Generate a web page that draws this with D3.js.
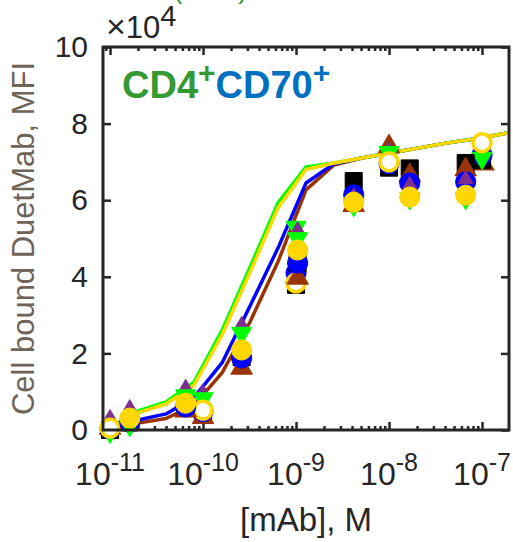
<!DOCTYPE html>
<html>
<head>
<meta charset="utf-8">
<script src="https://cdn.jsdelivr.net/npm/d3@7"></script>
<style>
  html, body { margin: 0; padding: 0; background: #fff; }
  svg { display: block; font-family: "Liberation Sans", Arial, Helvetica, sans-serif; }
</style>
</head>
<body>
<div id="chart"></div>
<script>
/*
 * Cell bound DuetMab vs [mAb] — CD4+CD70+ cells
 * Values in units of 10^4 MFI (axis multiplier shown top-left)
 */

/* ── concentrations (M) ───────────────────────────────────────── */
var concA   = [1.63e-11, 6.5e-11, 2.6e-10, 1.04e-9, 4.17e-9, 1.67e-8, 6.67e-8];
var concB   = [1e-11, 1e-10, 1e-9, 1e-8, 1e-7];
var concOpen = [1e-7];
var fitConc = [1e-11, 2e-11, 4e-11, 8e-11, 1.6e-10, 3.2e-10, 6.4e-10, 1.28e-9,
               2.56e-9, 5.12e-9, 1.02e-8, 2.05e-8, 4.1e-8, 8.2e-8, 1.64e-7, 3.28e-7];

/* ── measured points, series A (4-fold dilutions) ─────────────── */
var blackA  = [0.20, 0.60, 1.90, 4.36, 6.50, 6.83, 6.97];
var brownA  = [0.15, 0.50, 1.62, 3.97, 5.87, 6.65, 6.80];
var blueA   = [0.20, 0.60, 1.88, 4.36, 6.14, 6.45, 6.48];
var purpleA = [0.57, 1.10, 2.74, 5.22, 6.10, 6.40, 6.55];
var greenA  = [0.13, 0.90, 2.53, 5.00, 5.87, 6.05, 6.05];
var goldA   = [0.31, 0.70, 2.09, 4.70, 5.95, 6.08, 6.13];

/* ── measured points, series B (10-fold dilutions) ────────────── */
var blackB  = [0.00, 0.45, 3.79, 6.85, 7.05];
var brownB  = [0.05, 0.33, 4.00, 7.40];
var blueB   = [0.02, 0.48, 4.10, 6.95, 7.18];
var purpleB = [0.31, 0.97, 4.60, 7.30, 7.30];
var greenB  = [-0.05, 0.82, 5.30, 7.25, 7.10];
var whiteB  = [0.05, 0.52, 3.84, 7.00, 7.50];
var brownOpen = [6.97];

/* ── fitted curves ────────────────────────────────────────────── */
var fitGreen = [0.05, 0.50, 0.73, 1.25, 2.60, 4.25, 5.93, 6.87, 6.97, 7.10, 7.23, 7.36, 7.49, 7.60, 7.73, 7.86];
var fitGold  = [0.03, 0.45, 0.68, 1.17, 2.48, 4.12, 5.80, 6.80, 6.97, 7.10, 7.23, 7.36, 7.49, 7.60, 7.73, 7.86];
var fitBlue  = [0.00, 0.26, 0.42, 0.85, 1.75, 3.24, 4.75, 6.45, 6.95, 7.10, 7.23, 7.36, 7.49, 7.60, 7.73, 7.86];
var fitBrown = [0.00, 0.18, 0.30, 0.65, 1.49, 2.82, 4.39, 6.27, 6.92, 7.10, 7.23, 7.36, 7.49, 7.60, 7.73, 7.86];

/* ── ticks ────────────────────────────────────────────────────── */
var yTicks    = [0, 2, 4, 6, 8, 10];
var xTickExps = [-11, -10, -9, -8, -7];

(function () {
  'use strict';

  var W = 513, H = 542;
  var left = 103, right = 509, top = 47, bottom = 430;
  var INK = '#262626';

  var svg = d3.select('#chart').append('svg')
    .attr('width', W).attr('height', H);

  var x = d3.scaleLog().domain([8.4e-12, 1.95e-7]).range([left, right]);
  var y = d3.scaleLinear().domain([0, 10]).range([bottom, top]);

  /* ──────────────────────────────────────────────────────────────
   * AXES (box, ticks inward on all four sides)
   * ────────────────────────────────────────────────────────────── */
  var majorX = xTickExps.map(function (e) { return Math.pow(10, e); });
  var minorX = [];
  d3.range(-12, -6).forEach(function (e) {
    d3.range(2, 10).forEach(function (m) {
      var v = m * Math.pow(10, e);
      if (v > x.domain()[0] && v < x.domain()[1]) minorX.push(v);
    });
  });

  function styleAxis(g) {
    g.select('.domain').remove();
    g.selectAll('.tick line').attr('stroke', INK).attr('stroke-width', 2.5);
  }

  svg.append('g').attr('transform', 'translate(0,' + bottom + ')')
    .call(d3.axisBottom(x).tickValues(majorX).tickSize(-8).tickFormat(''))
    .call(styleAxis);
  svg.append('g').attr('transform', 'translate(0,' + bottom + ')')
    .call(d3.axisBottom(x).tickValues(minorX).tickSize(-4).tickFormat(''))
    .call(styleAxis);
  svg.append('g').attr('transform', 'translate(0,' + top + ')')
    .call(d3.axisTop(x).tickValues(majorX).tickSize(-8).tickFormat(''))
    .call(styleAxis);
  svg.append('g').attr('transform', 'translate(0,' + top + ')')
    .call(d3.axisTop(x).tickValues(minorX).tickSize(-4).tickFormat(''))
    .call(styleAxis);

  var yAxis = svg.append('g').attr('transform', 'translate(' + left + ',0)')
    .call(d3.axisLeft(y).tickValues(yTicks).tickSize(-8).tickPadding(15).tickFormat(d3.format('d')))
    .call(styleAxis);
  yAxis.selectAll('.tick text')
    .attr('fill', INK).style('font-size', '30px')
    .style('font-family', '"Liberation Sans", Arial, sans-serif');

  svg.append('g').attr('transform', 'translate(' + right + ',0)')
    .call(d3.axisRight(y).tickValues(yTicks).tickSize(-8).tickFormat(''))
    .call(styleAxis);

  /* x tick labels: 10 with superscript exponent */
  var xl = svg.append('g').selectAll('text')
    .data(xTickExps).enter().append('text')
    .attr('x', function (e) { return x(Math.pow(10, e)); })
    .attr('y', 485)
    .attr('text-anchor', 'middle')
    .attr('fill', INK)
    .style('font-size', '32px');
  xl.append('tspan').text('10');
  xl.append('tspan').attr('dy', -14).style('font-size', '25px')
    .text(function (e) { return '-' + Math.abs(e); });

  /* ──────────────────────────────────────────────────────────────
   * FITTED CURVES
   * ────────────────────────────────────────────────────────────── */
  svg.append('clipPath').attr('id', 'plot-clip')
    .append('rect').attr('x', left).attr('y', top)
    .attr('width', right - left).attr('height', bottom - top);

  var line = d3.line()
    .x(function (d) { return x(d[0]); })
    .y(function (d) { return y(d[1]); });

  var fits = [
    { vals: fitBrown, color: '#993300' },
    { vals: fitBlue,  color: '#0000ff' },
    { vals: fitGreen, color: '#00ff00' },
    { vals: fitGold,  color: '#ffd700' }
  ];

  svg.append('g').attr('clip-path', 'url(#plot-clip)')
    .selectAll('path').data(fits).enter().append('path')
    .attr('d', function (f) { return line(d3.zip(fitConc, f.vals)); })
    .attr('fill', 'none')
    .attr('stroke', function (f) { return f.color; })
    .attr('stroke-width', 3.5)
    .attr('stroke-linejoin', 'round');

  /* ──────────────────────────────────────────────────────────────
   * MARKERS
   * ────────────────────────────────────────────────────────────── */
  var SQ   = d3.symbol().type(d3.symbolSquare).size(290);
  var CIR  = d3.symbol().type(d3.symbolCircle).size(320);
  var OCIR = d3.symbol().type(d3.symbolCircle).size(250);
  var TRI  = d3.symbol().type(d3.symbolTriangle).size(200);
  var TRIS = d3.symbol().type(d3.symbolTriangle).size(95);
  var TRID = d3.symbol().type(d3.symbolTriangle).size(175);

  var markers = [
    { xs: concOpen, ys: brownOpen, sym: TRI,  fill: '#fff',    stroke: '#993300', sw: 2.5 },
    { xs: concB, ys: blackB,  sym: SQ,   fill: '#000',    stroke: '#000' },
    { xs: concB, ys: brownB,  sym: TRI,  fill: '#993300', stroke: '#993300' },
    { xs: concB, ys: blueB,   sym: CIR,  fill: '#0000ff', stroke: '#0000ff' },
    { xs: concB, ys: purpleB, sym: TRIS, fill: '#7e2f8e', stroke: '#7e2f8e' },
    { xs: concB, ys: greenB,  sym: TRID, fill: '#00ff00', stroke: '#00ff00', flip: true },
    { xs: concB, ys: whiteB,  sym: OCIR, fill: '#fff',    stroke: '#ffd700', sw: 3.5 },
    { xs: concA, ys: blackA,  sym: SQ,   fill: '#000',    stroke: '#000' },
    { xs: concA, ys: brownA,  sym: TRI,  fill: '#993300', stroke: '#993300' },
    { xs: concA, ys: blueA,   sym: CIR,  fill: '#0000ff', stroke: '#0000ff' },
    { xs: concA, ys: purpleA, sym: TRIS, fill: '#7e2f8e', stroke: '#7e2f8e' },
    { xs: concA, ys: greenA,  sym: TRID, fill: '#00ff00', stroke: '#00ff00', flip: true },
    { xs: concA, ys: goldA,   sym: CIR,  fill: '#ffd700', stroke: '#ffd700' }
  ];

  markers.forEach(function (m) {
    svg.append('g').selectAll('path')
      .data(d3.zip(m.xs, m.ys)).enter().append('path')
      .attr('d', m.sym)
      .attr('transform', function (d) {
        return 'translate(' + x(d[0]) + ',' + y(d[1]) + ')' + (m.flip ? ' rotate(180)' : '');
      })
      .attr('fill', m.fill)
      .attr('stroke', m.stroke)
      .attr('stroke-width', m.sw || 1);
  });

  /* frame on top */
  svg.append('rect')
    .attr('x', left).attr('y', top)
    .attr('width', right - left).attr('height', bottom - top)
    .attr('fill', 'none').attr('stroke', INK).attr('stroke-width', 3);

  /* ──────────────────────────────────────────────────────────────
   * TEXTS
   * ────────────────────────────────────────────────────────────── */
  // partly cut-off panel heading above the figure
  svg.append('text')
    .attr('x', 173).attr('y', -2)
    .attr('fill', '#339933')
    .style('font-size', '28px')
    .text('(CD4)');

  var mult = svg.append('text')
    .attr('x', 106).attr('y', 38)
    .attr('fill', INK)
    .style('font-size', '31px');
  mult.append('tspan').style('font-size', '34px').text('\u00d7');
  mult.append('tspan').text('10');
  mult.append('tspan').attr('dy', -12).style('font-size', '29px').text('4');

  var tag = svg.append('text')
    .attr('x', 122).attr('y', 98)
    .style('font-size', '38px')
    .style('font-weight', 'bold');
  tag.append('tspan').attr('fill', '#339933').text('CD4');
  tag.append('tspan').attr('fill', '#339933').attr('dy', -15).style('font-size', '30px').text('+');
  tag.append('tspan').attr('fill', '#0070c0').attr('dy', 15).text('CD70');
  tag.append('tspan').attr('fill', '#0070c0').attr('dy', -15).style('font-size', '30px').text('+');

  svg.append('text')
    .attr('transform', 'translate(34,' + ((top + bottom) / 2) + ') rotate(-90)')
    .attr('text-anchor', 'middle')
    .attr('fill', '#706458')
    .style('font-size', '31px')
    .text('Cell bound DuetMab, MFI');

  svg.append('text')
    .attr('x', (left + right) / 2).attr('y', 531)
    .attr('text-anchor', 'middle')
    .attr('fill', INK)
    .style('font-size', '33px')
    .text('[mAb], M');
})();
</script>
</body>
</html>
